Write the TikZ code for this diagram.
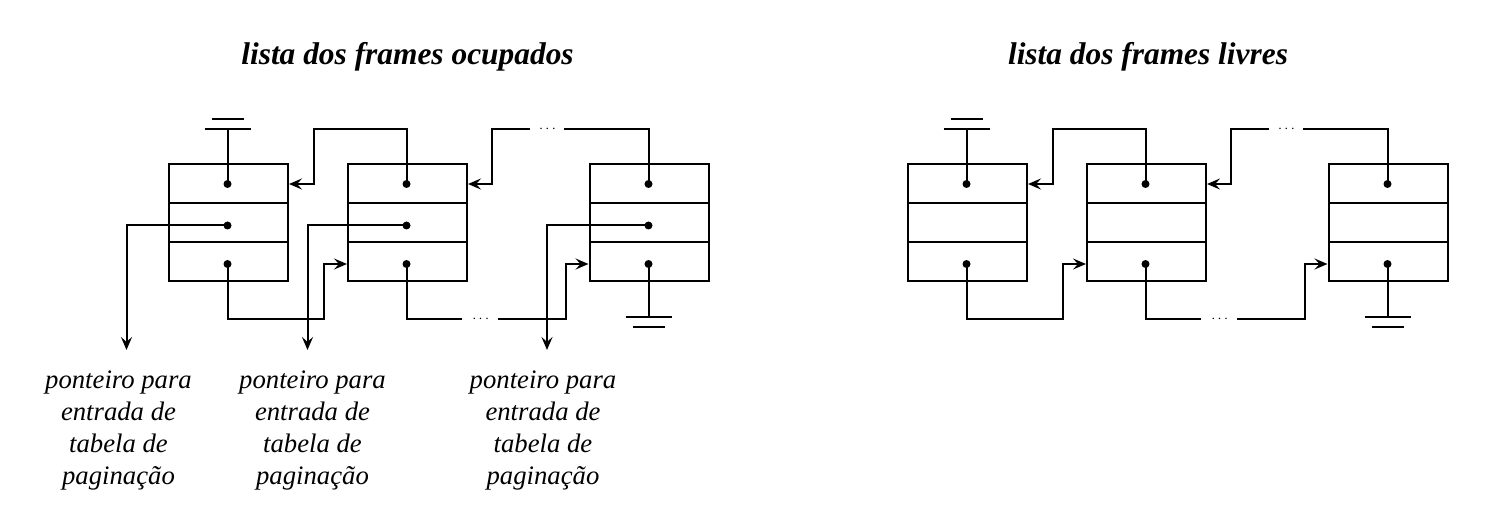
\documentclass[tikz,border=0pt]{standalone}
\usepackage{fontspec}
\setmainfont{Liberation Serif}
\usetikzlibrary{arrows.meta}
\begin{document}
\begin{tikzpicture}[x=1pt,y=-1pt,
  ln/.style={line width=2pt},
  row/.style={draw, line width=2pt, minimum width=119pt, minimum height=39pt, inner sep=0pt},
  arr/.style={ln, -{Stealth[length=13pt,width=11pt,inset=5pt]}},
  titletext/.style={font=\fontsize{31.4}{36}\selectfont\bfseries\itshape, anchor=base, inner sep=0pt},
  lab/.style={font=\fontsize{26.7}{32}\selectfont\itshape, align=center, anchor=north, inner xsep=0pt, inner ysep=21pt},
  ell/.style={font=\fontsize{14}{14}\selectfont, anchor=base, inner sep=0pt}]
\path[use as bounding box] (0,0) rectangle (1505,518);

% titles
\node[titletext] (t1) at (407.5,65) {lista dos frames ocupados};
\node[titletext] (t2) at (1148,65) {lista dos frames livres};

\foreach \p/\dx in {L/0,R/739}{
\begin{scope}[xshift=\dx pt]
  % boxes (three rows each)
  \node[row] (\p b1a) at (228.5,184) {};
  \node[row] (\p b1b) at (228.5,223) {};
  \node[row] (\p b1c) at (228.5,262) {};
  \node[row] (\p b2a) at (407.5,184) {};
  \node[row] (\p b2b) at (407.5,223) {};
  \node[row] (\p b2c) at (407.5,262) {};
  \node[row] (\p b3a) at (649,184) {};
  \node[row] (\p b3b) at (649,223) {};
  \node[row] (\p b3c) at (649,262) {};
  % pointer origins
  \coordinate (\p d1a) at (227.5,184);
  \coordinate (\p d1c) at (227.5,264);
  \coordinate (\p d2a) at (406.5,184);
  \coordinate (\p d2c) at (406.5,264);
  \coordinate (\p d3a) at (648.5,184);
  \coordinate (\p d3c) at (648.5,264);
  \coordinate (\p top) at (0,129);
  \coordinate (\p bot) at (0,319);
  \coordinate (\p tgl) at (530,129);
  \coordinate (\p tgr) at (564,129);
  \coordinate (\p bgl) at (462,319);
  \coordinate (\p bgr) at (498,319);
  \coordinate (\p g1) at (227.5,129);
  \coordinate (\p g3) at (648.5,317.5);
  % ground at head of list
  \draw[ln] (\p d1a) -- (\p g1);
  \draw[ln] ([xshift=-23pt]\p g1) -- ([xshift=23pt]\p g1);
  \draw[ln] ([xshift=-16pt,yshift=10pt]\p g1) -- ([xshift=16pt,yshift=10pt]\p g1);
  % ground at tail of list
  \draw[ln] (\p d3c) -- (\p g3);
  \draw[ln] ([xshift=-23pt]\p g3) -- ([xshift=23pt]\p g3);
  \draw[ln] ([xshift=-16pt,yshift=-10pt]\p g3) -- ([xshift=16pt,yshift=-10pt]\p g3);
  % backward links (top)
  \draw[arr] (\p d2a) |- ([xshift=25pt]\p b1a.east |- \p top) |- (\p b1a.east |- \p d1a);
  \draw[ln] (\p d3a) |- (\p tgr);
  \node[ell] (\p te) at (547.5,132.5) {$\cdots$};
  \draw[arr] (\p tgl) -| ([xshift=24pt]\p b2a.east |- \p d2a) -- (\p b2a.east |- \p d2a);
  % forward links (bottom)
  \draw[arr] (\p d1c) |- ([xshift=-23pt]\p b2c.west |- \p bot) |- (\p b2c.west |- \p d2c);
  \draw[ln] (\p d2c) |- (\p bgl);
  \node[ell] (\p be) at (480.7,322.5) {$\cdots$};
  \draw[arr] (\p bgr) -| ([xshift=-23pt]\p b3c.west |- \p d3c) -- (\p b3c.west |- \p d3c);
  % dots
  \foreach \d in {d1a,d1c,d2a,d2c,d3a,d3c}{\fill (\p\d) circle (4pt);}
\end{scope}
}

% page-table pointers (occupied list only)
\coordinate (Ld1b) at (227.5,225.5);
\coordinate (Ld2b) at (406.5,225.5);
\coordinate (Ld3b) at (648.5,225.5);
\fill (Ld1b) circle (4pt);
\fill (Ld2b) circle (4pt);
\fill (Ld3b) circle (4pt);
\node[lab] (lab1) at (118.5,350) {ponteiro para\\entrada de\\tabela de\\paginação};
\node[lab] (lab2) at (312.5,350) {ponteiro para\\entrada de\\tabela de\\paginação};
\node[lab] (lab3) at (543,350) {ponteiro para\\entrada de\\tabela de\\paginação};
\draw[arr] (Ld1b) -| ([xshift=8pt]lab1.north);
\draw[arr] (Ld2b) -| ([xshift=-5pt]lab2.north);
\draw[arr] (Ld3b) -| ([xshift=4pt]lab3.north);
\end{tikzpicture}
\end{document}
